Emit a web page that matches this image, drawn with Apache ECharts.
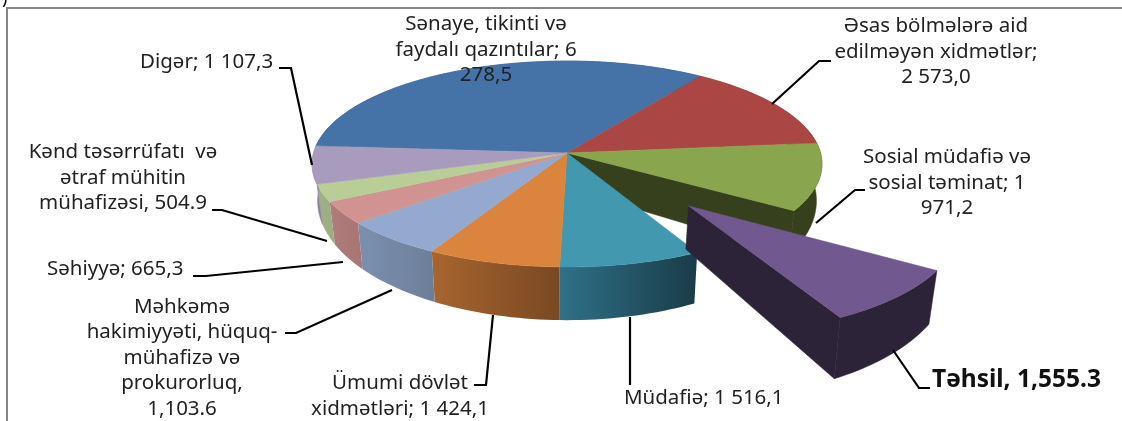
<!DOCTYPE html>
<html>
<head>
<meta charset="utf-8">
<style>
  html, body { margin: 0; padding: 0; background: #fff; }
  #chart { width: 1122px; height: 421px; overflow: hidden; }
</style>
</head>
<body>
<div id="chart"></div>
<script src="https://cdn.jsdelivr.net/npm/echarts@6/dist/echarts.min.js"></script>
<script>
  // data
  var categories = ['Sənaye', 'Əsas bölmələr', 'Sosial müdafiə', 'Təhsil', 'Müdafiə', 'Ümumi dövlət', 'Məhkəmə', 'Səhiyyə', 'Kənd təsərrüfatı', 'Digər'];
  var values = [6278.5, 2573.0, 1971.2, 1555.3, 1516.1, 1424.1, 1103.6, 665.3, 504.9, 1107.3];
  var labelTexts = [
    'Sənaye, tikinti və\nfaydalı qazıntılar; 6\n278,5',
    'Əsas bölmələrə aid\nedilməyən xidmətlər;\n2 573,0',
    'Sosial müdafiə və\nsosial təminat; 1\n971,2',
    'Təhsil, 1,555.3',
    'Müdafiə; 1 516,1',
    'Ümumi dövlət\nxidmətləri; 1 424,1',
    'Məhkəmə\nhakimiyyəti, hüquq-\nmühafizə və\nprokurorluq,\n1,103.6',
    'Səhiyyə; 665,3',
    'Kənd təsərrüfatı  və\nətraf mühitin\nmühafizəsi, 504.9',
    'Digər; 1 107,3'
  ];

  // styles
  var topColors = ['#4572a7', '#aa4643', '#89a54e', '#71588f', '#4198af', '#db843d', '#93a9cf', '#d19392', '#b9cd96', '#a99bbd'];
  var wallLeft = ['#35567e', '#803533', '#37401d', '#2d2339', '#2f7189', '#a8652f', '#7b90b0', '#b07c7b', '#a0b285', '#8f82a0'];
  var wallRight = ['#35567e', '#803533', '#37401d', '#2d2339', '#1a3b47', '#794822', '#6d7e99', '#a87574', '#9aac80', '#8f82a0'];
  var FONT = '"Noto Sans", "Open Sans", sans-serif';

  // label positions: [x, y, align], leader lines as polylines
  var labelPos = [
    [486, 50, 'center'], [936, 52, 'center'], [947, 183, 'center'], [932, 380, 'left'], [624, 398, 'left'],
    [400, 396, 'center'], [182, 358, 'center'], [47, 269, 'left'], [123, 178, 'center'], [140, 62, 'left']
  ];
  var leaderLines = [
    null,
    [[831, 61], [819, 61], [772, 104]],
    [[865, 190], [855, 190], [816, 223]],
    [[930, 388], [919, 388], [893, 350]],
    [[630, 317], [630, 385]],
    [[474, 385], [486, 385], [493, 315]],
    [[285, 333], [296, 333], [392, 290]],
    [[193, 276], [206, 276], [343, 262]],
    [[212, 210], [222, 210], [327, 241]],
    [[279, 68], [291, 68], [312, 165]]
  ];

  // pie geometry, perspective of the tilted disc
  var CX = 567, P = 0.107;
  var TOP = { r: 253.5, cy: 153, s: 101.8 };
  var BOTTOM = { r: 248, cy: 188, s: 118 };
  var START_ANGLE = -86;
  var EXPLODED = 3, EXPLODE = 0.67;

  var total = values.reduce(function (a, b) { return a + b; }, 0);
  var angles = [];
  var acc = START_ANGLE;
  values.forEach(function (v) {
    var next = acc + v / total * 360;
    angles.push([acc, next]);
    acc = next;
  });

  function offsetOf(i) {
    if (i !== EXPLODED) return [0, 0];
    var mid = (angles[i][0] + angles[i][1]) / 2 * Math.PI / 180;
    return [Math.sin(mid) * EXPLODE, -Math.cos(mid) * EXPLODE];
  }
  // disc coordinates to screen
  function project(plane, u, v) {
    var w = 1 - P * v;
    return [CX + plane.r * u / w, plane.cy + plane.s * v / w];
  }
  function arc(plane, i) {
    var a = angles[i], off = offsetOf(i), pts = [];
    var n = Math.ceil((a[1] - a[0]) / 1.5);
    for (var k = 0; k <= n; k++) {
      var t = (a[0] + (a[1] - a[0]) * k / n) * Math.PI / 180;
      pts.push(project(plane, Math.sin(t) + off[0], -Math.cos(t) + off[1]));
    }
    return pts;
  }
  function apex(plane, i) {
    var off = offsetOf(i);
    return project(plane, off[0], off[1]);
  }
  function poly(points, fill) {
    return {
      type: 'polygon',
      shape: { points: points },
      style: { fill: fill, stroke: typeof fill === 'string' ? fill : null, lineWidth: 0.5 },
      silent: true
    };
  }
  function wallFill(i) {
    if (wallLeft[i] === wallRight[i]) return wallLeft[i];
    return new echarts.graphic.LinearGradient(0, 0, 1, 0, [
      { offset: 0, color: wallLeft[i] },
      { offset: 1, color: wallRight[i] }
    ]);
  }
  function wallFace(i) {
    return poly(arc(TOP, i).concat(arc(BOTTOM, i).reverse()), wallFill(i));
  }
  function topFace(i) {
    return poly([apex(TOP, i)].concat(arc(TOP, i)), topColors[i]);
  }

  // painter order: walls, cut faces, top faces, exploded slice last
  function renderLayer(layer) {
    return function (params, api) {
      var i = api.value(0);
      var children = [];
      if (layer === 'walls' && i !== EXPLODED) {
        children.push(wallFace(i));
      }
      if (layer === 'cut' && i === EXPLODED - 1) {
        var t = arc(TOP, i), b = arc(BOTTOM, i);
        children.push(poly([apex(TOP, i), t[t.length - 1], b[b.length - 1], apex(BOTTOM, i)], wallLeft[i]));
      }
      if (layer === 'tops' && i !== EXPLODED) {
        children.push(topFace(i));
      }
      if (layer === 'exploded' && i === EXPLODED) {
        var t2 = arc(TOP, i), b2 = arc(BOTTOM, i);
        children.push(wallFace(i));
        children.push(poly([apex(TOP, i), t2[t2.length - 1], b2[b2.length - 1], apex(BOTTOM, i)], wallLeft[i]));
        children.push(topFace(i));
      }
      return { type: 'group', children: children };
    };
  }
  var seriesData = values.map(function (v, i) { return { name: categories[i], value: [i, v] }; });
  var layers = ['walls', 'cut', 'tops', 'exploded'];

  var graphics = [
    // frame, its right and bottom sides are cut off in the picture
    { type: 'rect', shape: { x: 7, y: 8, width: 1300, height: 600 }, style: { fill: null, stroke: '#868686', lineWidth: 2 }, z: 0 },
    { type: 'text', style: { text: ')', x: 2, y: -10, font: '18px ' + FONT, fill: '#000' }, z: 0 }
  ];
  leaderLines.forEach(function (line) {
    if (line) {
      graphics.push({ type: 'polyline', shape: { points: line }, style: { stroke: '#000', lineWidth: 2.2, fill: null }, z: 20 });
    }
  });
  labelTexts.forEach(function (text, i) {
    var pos = labelPos[i];
    graphics.push({
      type: 'text',
      z: 21,
      style: {
        text: text,
        x: pos[0],
        y: pos[1],
        align: pos[2],
        verticalAlign: 'middle',
        fill: i === EXPLODED ? '#111' : '#222',
        fontFamily: FONT,
        fontWeight: i === EXPLODED ? 'bold' : 'normal',
        fontSize: i === EXPLODED ? 24.5 : 20.5,
        lineHeight: 25.5
      }
    });
  });

  var myChart = echarts.init(document.getElementById('chart'));
  myChart.setOption({
    animation: false,
    backgroundColor: '#fff',
    graphic: graphics,
    series: layers.map(function (layer, n) {
      return {
        type: 'custom',
        coordinateSystem: 'none',
        name: layer,
        z: 5 + n,
        silent: true,
        clip: false,
        data: seriesData,
        renderItem: renderLayer(layer)
      };
    })
  });
</script>
</body>
</html>
